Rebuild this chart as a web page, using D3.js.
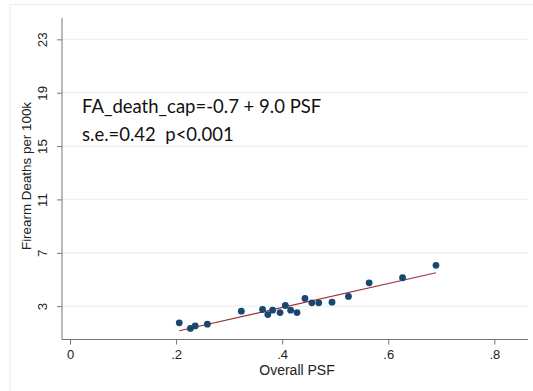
<!DOCTYPE html>
<html>
<head>
<meta charset="utf-8">
<script src="https://cdn.jsdelivr.net/npm/d3@7"></script>
<style>
  body { margin: 0; background: #fff; }
  svg { display: block; }
</style>
</head>
<body>
<svg width="533" height="391"></svg>
<script>
// PSF vs firearm deaths scatter, with fitted line

// data
var psf = [0.206, 0.227, 0.236, 0.259, 0.323, 0.363, 0.373, 0.382, 0.396, 0.406,
           0.416, 0.428, 0.443, 0.456, 0.469, 0.494, 0.525, 0.564, 0.627, 0.690];
var deaths = [1.75, 1.33, 1.52, 1.65, 2.62, 2.75, 2.37, 2.70, 2.52, 3.05,
              2.70, 2.52, 3.58, 3.25, 3.25, 3.30, 3.73, 4.75, 5.13, 6.06];
var fitCoef = [-0.7, 9.0];
var xTicks = [0, 0.2, 0.4, 0.6, 0.8];
var xTickLabels = ["0", ".2", ".4", ".6", ".8"];
var yTicks = [3, 7, 11, 15, 19, 23];
var noteLines = ["FA_death_cap=-0.7 + 9.0 PSF", "s.e.=0.42  p<0.001"];

var svg = d3.select("svg");

// light frame round the plot (stata look)
svg.append("rect")
    .attr("x", 10).attr("y", 4.5)
    .attr("width", 560).attr("height", 420)
    .attr("fill", "none")
    .attr("stroke", "#e6eef0")
    .attr("stroke-width", 1);

// plot area edges (don't call these top/left: window.top is taken)
var pLeft = 62, pRight = 528, pTop = 18, pBottom = 339.5;

var x = d3.scaleLinear().domain([-0.0151, 0.8635]).range([pLeft, pRight]);
var y = d3.scaleLinear().domain([0.5, 24.6]).range([pBottom, pTop]);

var points = psf.map(function (d, i) { return { x: d, y: deaths[i] }; });

// gridlines
svg.append("g")
    .selectAll("line")
    .data(yTicks)
    .enter()
    .append("line")
    .attr("x1", pLeft).attr("x2", pRight)
    .attr("y1", function (d) { return y(d); })
    .attr("y2", function (d) { return y(d); })
    .attr("stroke", "#e9f1f3")
    .attr("stroke-width", 1.3);

// y axis
var yAxis = svg.append("g")
    .attr("transform", "translate(" + pLeft + ",0)")
    .call(d3.axisLeft(y).tickValues(yTicks).tickSize(5).tickPadding(10).tickSizeOuter(0));
yAxis.select(".domain").attr("stroke", "#777").attr("d", "M0," + pTop + "V" + pBottom);
yAxis.selectAll(".tick line").attr("stroke", "#777");
yAxis.selectAll(".tick text")
    .attr("transform", "rotate(-90)")
    .attr("x", 0).attr("y", -15).attr("dy", 0)
    .attr("text-anchor", "middle")
    .style("font-family", "Liberation Sans, Arial, sans-serif")
    .style("font-size", "13.4px")
    .attr("fill", "#222");

// x axis
var xAxis = svg.append("g")
    .attr("transform", "translate(0," + pBottom + ")")
    .call(d3.axisBottom(x).tickValues(xTicks)
        .tickFormat(function (d, i) { return xTickLabels[i]; })
        .tickSize(5).tickPadding(5).tickSizeOuter(0));
xAxis.select(".domain").attr("stroke", "#777").attr("d", "M" + pLeft + ",0H" + pRight);
xAxis.selectAll(".tick line").attr("stroke", "#777");
xAxis.selectAll(".tick text")
    .attr("dy", "0.71em")
    .style("font-family", "Liberation Sans, Arial, sans-serif")
    .style("font-size", "13px")
    .attr("fill", "#222");

// axis titles
svg.append("text")
    .attr("transform", "translate(31," + 176 + ") rotate(-90)")
    .attr("text-anchor", "middle")
    .style("font-family", "Liberation Sans, Arial, sans-serif")
    .style("font-size", "13.4px")
    .attr("fill", "#222")
    .text("Firearm Deaths per 100k");

svg.append("text")
    .attr("x", 297).attr("y", 375)
    .attr("text-anchor", "middle")
    .style("font-family", "Liberation Sans, Arial, sans-serif")
    .style("font-size", "14px")
    .attr("fill", "#222")
    .text("Overall PSF");

// fitted line over data range
var xr = d3.extent(psf);
svg.append("line")
    .attr("x1", x(xr[0])).attr("y1", y(fitCoef[0] + fitCoef[1] * xr[0]))
    .attr("x2", x(xr[1])).attr("y2", y(fitCoef[0] + fitCoef[1] * xr[1]))
    .attr("stroke", "#9b2f38")
    .attr("stroke-width", 1.1);

// markers
svg.append("g")
    .selectAll("circle")
    .data(points)
    .enter()
    .append("circle")
    .attr("cx", function (d) { return x(d.x); })
    .attr("cy", function (d) { return y(d.y); })
    .attr("r", 3.4)
    .attr("fill", "#1a476f");

// regression note
svg.append("g")
    .selectAll("text")
    .data(noteLines)
    .enter()
    .append("text")
    .attr("x", 82)
    .attr("y", function (d, i) { return 113 + i * 28; })
    .attr("xml:space", "preserve")
    .style("white-space", "pre")
    .style("font-family", "Lato, sans-serif")
    .style("font-size", "18.5px")
    .attr("fill", "#111")
    .text(function (d) { return d; });
</script>
</body>
</html>
